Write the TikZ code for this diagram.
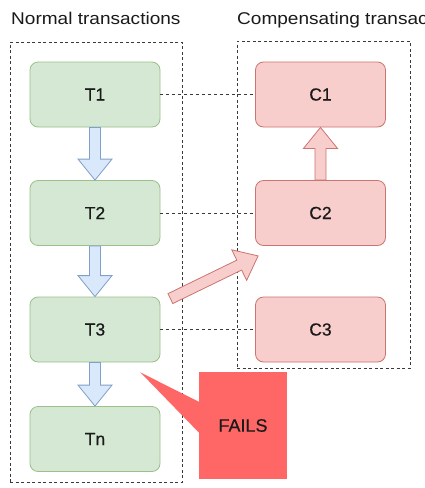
\documentclass[tikz,border=0pt]{standalone}
\usepackage{fontspec}
\usepackage{graphicx}
\setmainfont{Liberation Sans}[BoldFont=Liberation Sans, BoldFeatures={FakeBold=0.5}]
\usetikzlibrary{calc}
\definecolor{gfill}{HTML}{D5E8D4}
\definecolor{gdraw}{HTML}{9CC08A}
\definecolor{rfill}{HTML}{F8CECC}
\definecolor{rdraw}{HTML}{CC7470}
\definecolor{bfill}{HTML}{DAE8FC}
\definecolor{bdraw}{HTML}{819FCB}
\definecolor{failfill}{HTML}{FF6666}
\definecolor{txt}{HTML}{1A1A1A}
\definecolor{dashc}{HTML}{3A3A3A}
\tikzset{
  tbox/.style={draw=gdraw, fill=gfill, rounded corners=8pt, minimum width=130pt, minimum height=65pt,
    line width=0.8pt, inner sep=0pt, text=txt, font=\fontsize{17.5}{19}\selectfont\bfseries},
  cbox/.style={tbox, draw=rdraw, fill=rfill},
  groupbox/.style={draw=dashc, dash pattern=on 3pt off 2.5pt, line width=0.9pt, inner sep=0pt},
  conn/.style={draw=dashc, dash pattern=on 3pt off 3pt, line width=0.9pt},
  titletext/.style={inner sep=0pt, text=txt, font=\fontsize{17}{19}\selectfont, anchor=base west},
  barrow/.style={draw=bdraw, fill=bfill, line width=0.8pt, line join=miter},
  rarrow/.style={draw=rdraw, fill=rfill, line width=0.8pt, line join=miter},
  failbox/.style={fill=failfill, minimum width=88pt, minimum height=107pt, inner sep=0pt,
    text=txt, font=\fontsize{18}{20}\selectfont\bfseries},
}
\newcommand\blockarrow[3]{%
  \coordinate (ba-a) at (#2);
  \coordinate (ba-b) at (#3);
  \coordinate (ba-h) at ($(ba-b)!21pt!(ba-a)$);
  \filldraw[#1] ($(ba-a)!5.5pt!90:(ba-b)$) -- ($(ba-h)!5.5pt!90:(ba-b)$) -- ($(ba-h)!17pt!90:(ba-b)$)
    -- (ba-b) -- ($(ba-h)!17pt!-90:(ba-b)$) -- ($(ba-h)!5.5pt!-90:(ba-b)$) -- ($(ba-a)!5.5pt!-90:(ba-b)$) -- cycle;}
\begin{document}
\begin{tikzpicture}[x=1pt,y=-1pt]
\useasboundingbox (0,0) rectangle (424,488);
\clip (0,0) rectangle (424,488);
\fill[white] (0,0) rectangle (424,488);
% titles
\node[titletext] (h1) at (11,24) {\scalebox{1.12}[1]{Normal transactions}};
\node[titletext] (h2) at (237,24) {\scalebox{1.12}[1]{Compensating transactions}};
% groups
\node[groupbox, minimum width=172pt, minimum height=440pt] (G1) at (96,262) {};
\node[groupbox, minimum width=173pt, minimum height=327pt] (G2) at (323.5,204.5) {};
% boxes
\node[tbox] (T1) at (95,94.5) {T1};
\node[tbox] (T2) at (95,213) {T2};
\node[tbox] (T3) at (95,329.5) {T3};
\node[tbox] (Tn) at (95,439) {Tn};
\node[cbox] (C1) at (320.5,94.5) {C1};
\node[cbox] (C2) at (320.5,213) {C2};
\node[cbox] (C3) at (320.5,329.5) {C3};
% dashed links
\draw[conn] (T1.east) -- (C1.west);
\draw[conn] (T2.east) -- (C2.west);
\draw[conn] (T3.east) -- (C3.west);
% block arrows
\blockarrow{barrow}{T1.south}{T2.north}
\blockarrow{barrow}{T2.south}{T3.north}
\blockarrow{barrow}{T3.south}{Tn.north}
\blockarrow{rarrow}{C2.north}{C1.south}
\coordinate (dt) at ($(T3.north east)+(10,2)$);
\coordinate (dh) at ($(C2.south west)+(3,10)$);
\blockarrow{rarrow}{dt}{dh}
% fails callout
\coordinate (ftip) at ($(T3.south east)+(-20,10)$);
\node[failbox] (F) at (243,425.5) {FAILS};
\fill[failfill] ($(F.west)+(0.5,-23.5)$) -- (ftip) -- ($(F.west)+(0.5,7.5)$) -- cycle;
\end{tikzpicture}
\end{document}
